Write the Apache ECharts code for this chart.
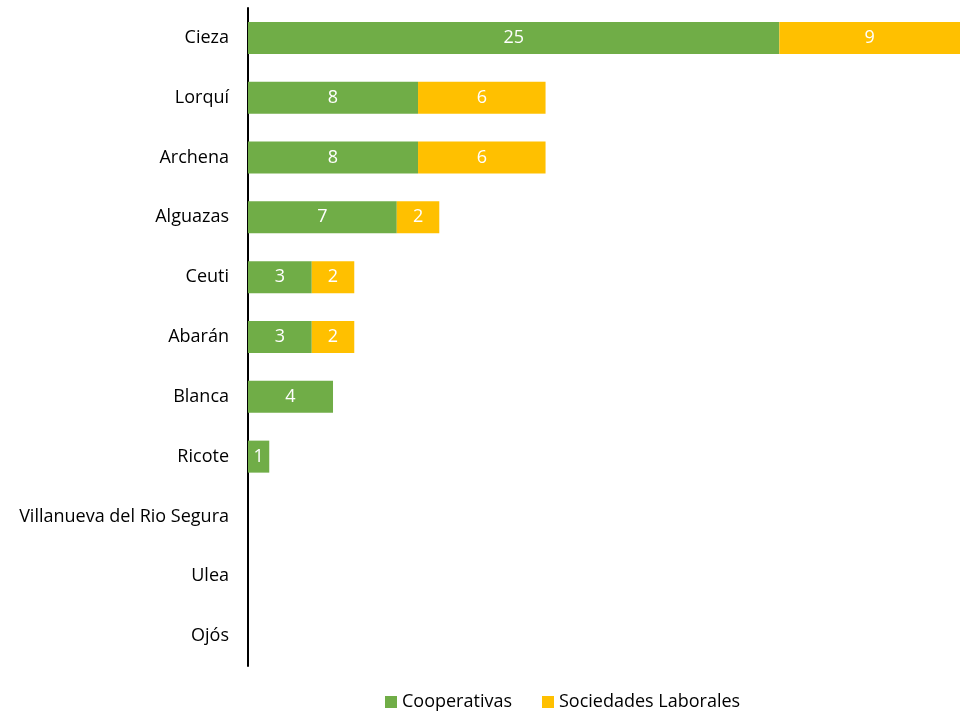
<!DOCTYPE html>
<html><head><meta charset="utf-8">
<script src="https://cdn.jsdelivr.net/npm/echarts@6/dist/echarts.min.js"></script>
<style>html,body{margin:0;padding:0;background:#fff}#c{width:960px;height:711px}</style>
</head><body><div id="c"></div>
<script>
const categories = ["Cieza","Lorquí","Archena","Alguazas","Ceuti","Abarán","Blanca","Ricote","Villanueva del Rio Segura","Ulea","Ojós"];
const cooperativas = [25,8,8,7,3,3,4,1,0,0,0];
const sociedadesLaborales = [9,6,6,2,2,2,0,0,0,0,0];
const seriesNames = ["Cooperativas","Sociedades Laborales"];

const FONT = "Open Sans";
const chart = echarts.init(document.getElementById('c'), null, {renderer:'canvas'});
const lbl = {show:true, position:'inside', color:'#fff', fontFamily:FONT, fontSize:18,
  formatter: p => p.value ? p.value : ''};
chart.setOption({
  animation:false,
  textStyle:{fontFamily:FONT},
  grid:{left:248, right:0, top:8, bottom:45, containLabel:false},
  xAxis:{type:'value', min:0, max:33.5, show:false},
  yAxis:{type:'category', data:categories, inverse:true,
    axisLine:{show:true, lineStyle:{color:'#000', width:2}},
    axisTick:{show:false}, splitLine:{show:false},
    axisLabel:{color:'#000', fontFamily:FONT, fontSize:18, margin:19}},
  legend:{top:688, left:380, itemWidth:12, itemHeight:12, itemGap:30, icon:'rect',
    textStyle:{color:'#000', fontFamily:FONT, fontSize:18}, data:seriesNames},
  series:[
    {name:seriesNames[0], type:'bar', stack:'s', data:cooperativas, barWidth:32,
     itemStyle:{color:'#70AD47'}, label:lbl},
    {name:seriesNames[1], type:'bar', stack:'s', data:sociedadesLaborales, barWidth:32,
     itemStyle:{color:'#FFC000'}, label:lbl}
  ]
});
</script></body></html>
